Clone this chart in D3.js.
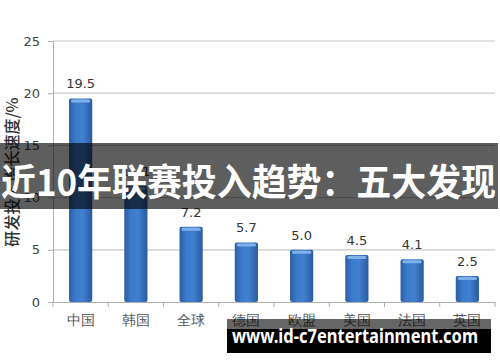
<!DOCTYPE html>
<html>
<head>
<meta charset="utf-8">
<script src="https://cdn.jsdelivr.net/npm/d3@7"></script>
<style>
  body { margin: 0; background: #fff; }
  svg { display: block; font-family: "Noto Sans CJK SC", "DejaVu Sans", sans-serif; }
</style>
</head>
<body>
<svg width="500" height="362"></svg>
<script>
var categories = ["中国", "韩国", "全球", "德国", "欧盟", "美国", "法国", "英国"];
var growth = [19.5, 11.1, 7.2, 5.7, 5.0, 4.5, 4.1, 2.5];
var yTicks = [0, 5, 10, 15, 20, 25];
var yLabel = "研发投入增长速度/%";
var bannerText = "近10年联赛投入趋势：五大发现";
var siteText = "www.id-c7entertainment.com";

var svg = d3.select("svg"),
    width = +svg.attr("width"),
    height = +svg.attr("height");

var plotLeft = 53, plotRight = 495, plotTop = 41, plotBottom = 302;

var x = d3.scaleBand()
    .domain(categories)
    .range([plotLeft, plotRight])
    .paddingInner(0.58)
    .paddingOuter(0.29);

var y = d3.scaleLinear()
    .domain([0, 25])
    .range([plotBottom, plotTop]);

// bar gradient
var defs = svg.append("defs");
var grad = defs.append("linearGradient").attr("id", "barGrad")
    .attr("x1", 0).attr("x2", 1).attr("y1", 0).attr("y2", 0);
grad.append("stop").attr("offset", "0%").attr("stop-color", "#2b5ea6");
grad.append("stop").attr("offset", "30%").attr("stop-color", "#3c7bcc");
grad.append("stop").attr("offset", "60%").attr("stop-color", "#417fcf");
grad.append("stop").attr("offset", "100%").attr("stop-color", "#2a5a9f");

// gridlines
svg.append("g")
    .selectAll("line")
    .data(yTicks.filter(function (d) { return d > 0; }))
    .enter().append("line")
    .attr("x1", plotLeft).attr("x2", plotRight)
    .attr("y1", function (d) { return y(d); })
    .attr("y2", function (d) { return y(d); })
    .attr("stroke", "#c8c8c8")
    .attr("stroke-width", 1.2);

// y axis
var axisLeft = d3.axisLeft(y).tickValues(yTicks).tickSize(5).tickPadding(8);
var gy = svg.append("g")
    .attr("transform", "translate(" + plotLeft + ",0)")
    .call(axisLeft);
gy.select(".domain").attr("stroke", "#b0b0b0");
gy.selectAll(".tick line").attr("stroke", "#b0b0b0");
gy.selectAll("text")
    .attr("fill", "#444")
    .style("font-size", "13px")
    .style("font-family", "'DejaVu Sans', sans-serif");

// x axis
var axisBottom = d3.axisBottom(x).tickSize(0).tickPadding(13);
var gx = svg.append("g")
    .attr("transform", "translate(0," + plotBottom + ")")
    .call(axisBottom);
gx.select(".domain").attr("stroke", "#b0b0b0");
gx.selectAll("text")
    .attr("fill", "#555")
    .style("font-size", "14px");

// tick marks between categories
gx.selectAll(".sep")
    .data(d3.range(categories.length + 1))
    .enter().append("line")
    .attr("x1", function (i) { return plotLeft + i * x.step(); })
    .attr("x2", function (i) { return plotLeft + i * x.step(); })
    .attr("y1", 0).attr("y2", 5)
    .attr("stroke", "#b0b0b0");

// y label
svg.append("text")
    .attr("transform", "translate(18," + 172 + ") rotate(-90)")
    .attr("text-anchor", "middle")
    .attr("fill", "#333")
    .style("font-size", "16px")
    .style("font-weight", "500")
    .text(yLabel);

// bars
var bars = svg.append("g").selectAll("g")
    .data(growth)
    .enter().append("g");

bars.append("rect")
    .attr("x", function (d, i) { return x(categories[i]); })
    .attr("y", function (d) { return y(d); })
    .attr("width", x.bandwidth())
    .attr("height", function (d) { return y(0) - y(d); })
    .attr("rx", 2)
    .attr("fill", "url(#barGrad)");

bars.append("rect")
    .attr("x", function (d, i) { return x(categories[i]) + 2; })
    .attr("y", function (d) { return y(d) + 1; })
    .attr("width", x.bandwidth() - 4)
    .attr("height", 3)
    .attr("rx", 1.5)
    .attr("fill", "#7fb0ea");

bars.append("text")
    .attr("x", function (d, i) { return x(categories[i]) + x.bandwidth() / 2; })
    .attr("y", function (d) { return y(d) - 10; })
    .attr("text-anchor", "middle")
    .attr("fill", "#333")
    .style("font-size", "13px")
    .style("font-family", "'DejaVu Sans', sans-serif")
    .text(function (d) { return d.toFixed(1); });

// banner overlay
svg.append("rect")
    .attr("x", 0).attr("y", 143)
    .attr("width", 498).attr("height", 66)
    .attr("fill", "rgba(0,0,0,0.63)");

svg.append("text")
    .attr("x", 1).attr("y", 196)
    .attr("fill", "#fff")
    .style("font-size", "37px")
    .style("font-weight", "bold")
    .attr("textLength", 495)
    .attr("lengthAdjust", "spacingAndGlyphs")
    .text(bannerText);

// site box
svg.append("rect")
    .attr("x", 227).attr("y", 319)
    .attr("width", 264).attr("height", 10)
    .attr("fill", "rgba(0,0,0,0.6)");
svg.append("rect")
    .attr("x", 227).attr("y", 329)
    .attr("width", 264).attr("height", 24)
    .attr("fill", "#000");
svg.append("text")
    .attr("x", 232).attr("y", 343)
    .attr("fill", "#fff")
    .style("font-size", "19px")
    .style("font-weight", "bold")
    .style("font-family", "'Noto Sans', 'DejaVu Sans', sans-serif")
    .attr("textLength", 246)
    .attr("lengthAdjust", "spacingAndGlyphs")
    .text(siteText);
</script>
</body>
</html>
